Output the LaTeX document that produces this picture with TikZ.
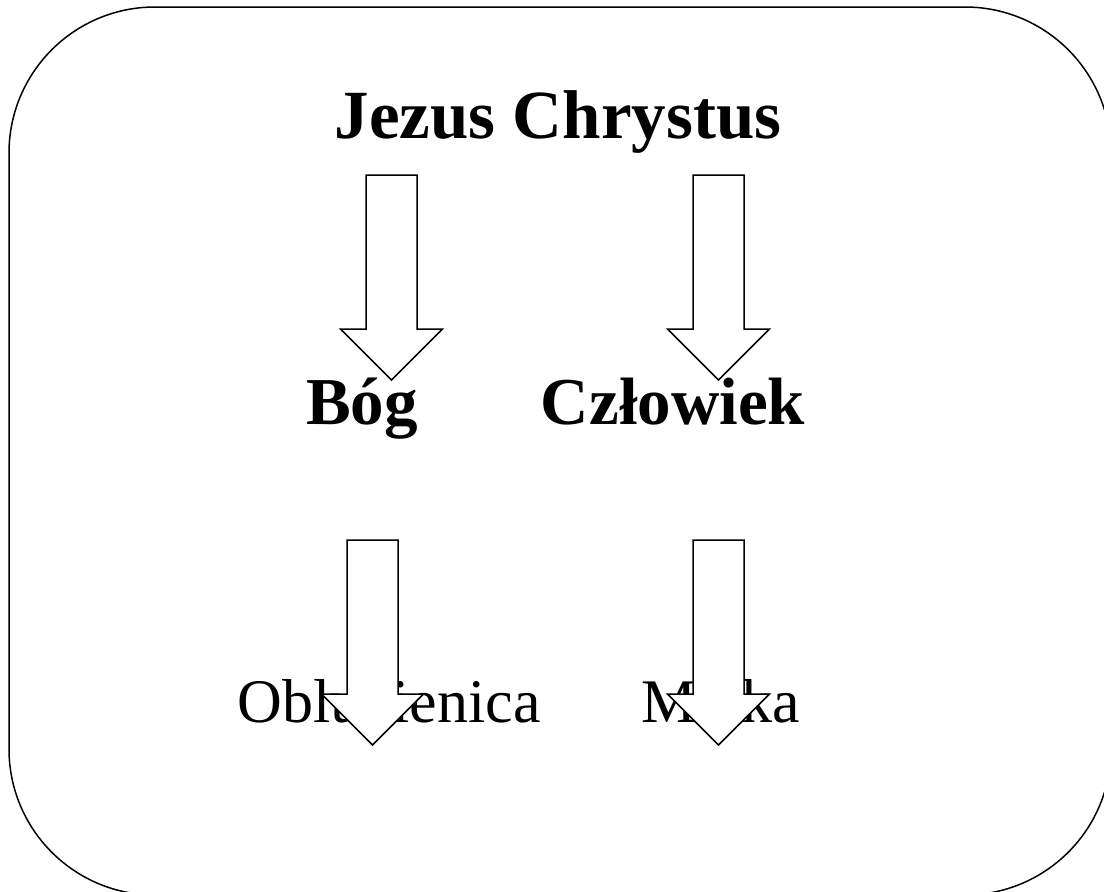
\documentclass[tikz,border=0pt]{standalone}
\usepackage{fontspec}
\setmainfont{Liberation Serif}
\tikzset{
  frameline/.style={draw=black, line width=1.5pt},
  bigword/.style={font=\fontsize{69}{80}\selectfont\bfseries, inner sep=0pt, anchor=base},
  midword/.style={font=\fontsize{67}{78}\selectfont\bfseries, inner sep=0pt, anchor=base},
  smallword/.style={font=\fontsize{62}{74}\selectfont, inner sep=0pt, anchor=base},
  downarrow/.pic={
    \draw[frameline, fill=white, line join=miter]
      (-25.5,0) -- (25.5,0) -- (25.5,154) -- (51,154) -- (0,205)
      -- (-51,154) -- (-25.5,154) -- cycle;
  },
}
\begin{document}
\begin{tikzpicture}[x=1pt, y=-1pt]
    \useasboundingbox (0,0) rectangle (1104,892);
    \begin{scope}
    \clip (0,0) rectangle (1104,892);
    \draw[frameline, rounded corners=146pt] (9,7) rectangle (1111,895);
    \end{scope}

    \node[bigword]   (jezus)    at (558,138) {Jezus Chrystus};
    \node[midword]   (bog)      at (362,424) {Bóg};
    \node[midword]   (czlowiek) at (673,424) {Człowiek};
    \node[smallword] (oblub)    at (389,722) {Oblubienica};
    \node[smallword] (matka)    at (721,722) {Matka};

%   arrows lie over the words
    \pic at (391.5,175) {downarrow};
    \pic at (718.5,175) {downarrow};
    \pic at (372.5,540) {downarrow};
    \pic at (718.5,540) {downarrow};
\end{tikzpicture}
\end{document}
